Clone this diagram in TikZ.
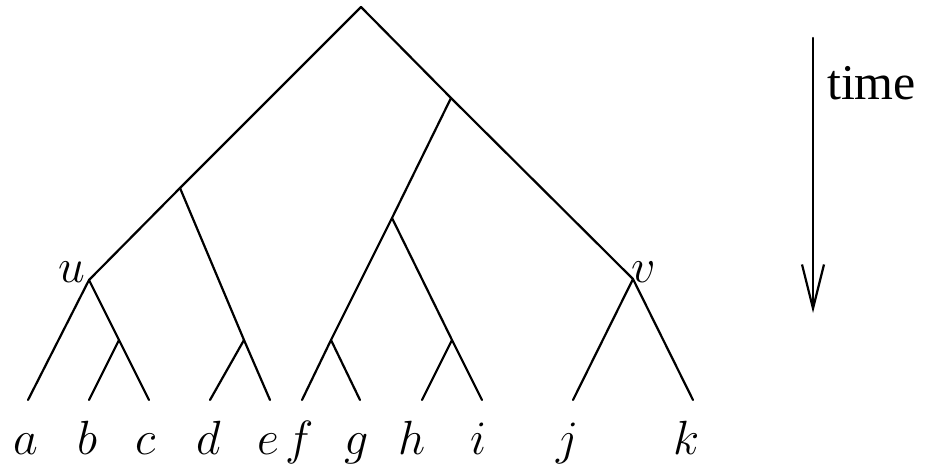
\documentclass[tikz,border=0pt]{standalone}
\usepackage{fix-cm}
\usepackage{fontspec}
\newfontfamily\timefont{Liberation Serif}
\usetikzlibrary{arrows.meta}
\newcommand{\Edge}{2.2pt}
\newcommand{\LeafY}{400}
\newcommand{\LabelY}{454}
\newcommand{\LabelSize}{\fontsize{48}{48}\selectfont}

\begin{document}
\begin{tikzpicture}[x=1pt,y=-1pt, line join=round, line cap=round,
  every path/.style={line width=\Edge},
  leaflabel/.style={anchor=base, inner sep=0pt, font=\LabelSize}]
  \useasboundingbox (0,0) rectangle (926,467);

  % ---- internal vertices --------------------------------------------------
  \coordinate (root) at (361,7);
  \coordinate (A)    at (180,188);
  \coordinate (B)    at (451,98);
  \coordinate (C)    at (392,218);
  \coordinate (u)    at (89,280);
  \coordinate (v)    at (633,279);
  \coordinate (bc)   at (119,340);
  \coordinate (de)   at (244,340);
  \coordinate (fg)   at (331,340);
  \coordinate (hi)   at (452,340);

  % ---- leaves and their names ---------------------------------------------
  % Labels sit a touch left of the leaf: italic letters lean right.
  \foreach \n/\x/\lx in {a/28/26, b/89/87, c/149/146, d/210/209, e/270/268,
                         f/302/300, g/360/357, h/422/412, i/482/479,
                         j/573/568, k/693/687} {
    \coordinate (\n) at (\x,\LeafY);
    \node[leaflabel] (l\n) at (\lx,\LabelY) {$\n$};
  }
  \node[leaflabel] (lu) at (72,282) {$u$};
  \node[leaflabel] (lv) at (644,282) {$v$};

  % ---- edges --------------------------------------------------------------
  \draw (u) -- (A) -- (root) -- (B) -- (v);
  \draw (A) -- (de) -- (e);
  \draw (de) -- (d);
  \draw (a) -- (u) -- (bc) -- (c);
  \draw (bc) -- (b);
  \draw (B) -- (C) -- (fg) -- (f);
  \draw (fg) -- (g);
  \draw (C) -- (hi) -- (i);
  \draw (hi) -- (h);
  \draw (j) -- (v) -- (k);

  % ---- time axis ----------------------------------------------------------
  \coordinate (tstart) at (813,38);
  \coordinate (tend)   at (813,313);
  \draw[-{Straight Barb[length=44pt,width=22pt,line width=\Edge]}] (tstart) -- (tend);
  \node[anchor=base west, inner sep=0pt, font=\fontsize{50}{50}\selectfont\timefont]
    (tlabel) at (826,99) {time};

\end{tikzpicture}
\end{document}
